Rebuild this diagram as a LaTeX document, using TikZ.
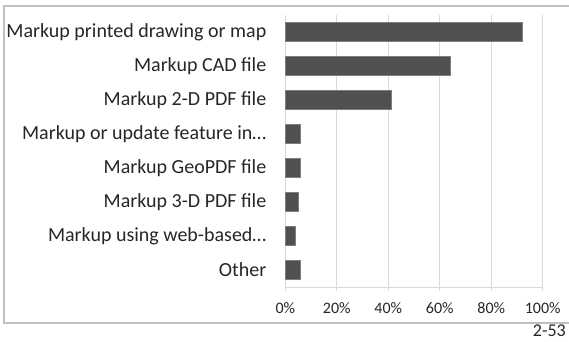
\documentclass[tikz,border=0pt]{standalone}
\usepackage{fontspec}
\setmainfont{Carlito}
\definecolor{barfill}{HTML}{505050}
\definecolor{baredge}{HTML}{7F7F7F}
\definecolor{gridgray}{HTML}{D9D9D9}
\definecolor{framegray}{HTML}{BFBFBF}
\tikzset{
  catlabel/.style={anchor=east, inner sep=0pt, text=black!85, font=\fontsize{20}{24}\selectfont},
  ticklabel/.style={inner sep=0pt, text=black!85},
  bar/.style={fill=barfill, draw=baredge, line width=0.6pt}
}
\begin{document}
\begin{tikzpicture}[x=1pt, y=-1pt, font=\fontsize{16}{19}\selectfont]
\useasboundingbox (0,0) rectangle (569,341);
% frame
\draw[framegray, line width=1.2pt] (569,6) -- (4,6) -- (4,323) -- (569,323);
% grid and axis
\foreach \p [count=\i from 0] in {0,20,...,100} {
  \draw[gridgray, line width=1pt] (285.3+2.574*\p, 15) -- (285.3+2.574*\p, 291);
  \node[ticklabel] (tick\i) at (285.3+2.574*\p, 308) {\p\%};
}
\draw[gridgray, line width=1pt] (285.3,287) -- (542.7,287);
% bars
\foreach \v/\lab [count=\i] in {92/Markup printed drawing or map,
    64/Markup CAD file, 41/Markup 2-D PDF file,
    6/Markup or update feature in…, 6/Markup GeoPDF file,
    5/Markup 3-D PDF file, 4/Markup using web-based…, 6/Other} {
  \draw[bar] (285.3, 22.5+34*\i-34) rectangle (285.3+2.574*\v, 41.5+34*\i-34);
  \node[catlabel] (cat\i) at (266.5, 32+34*\i-34) {\lab};
}
\node[ticklabel, anchor=east, font=\fontsize{18}{22}\selectfont] (page) at (566,331) {2-53};
\end{tikzpicture}
\end{document}
